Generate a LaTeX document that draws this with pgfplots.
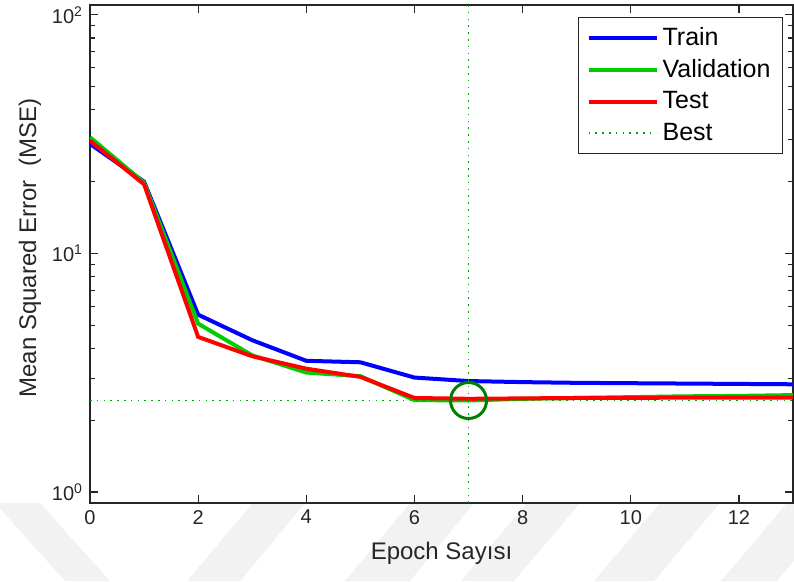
\documentclass[border=0pt]{standalone}
\usepackage{fontspec}
\setmainfont{Liberation Sans}
\usepackage{pgfplots}
\pgfplotsset{compat=1.18}

\definecolor{trainblue}{rgb}{0,0,1}
\definecolor{valgreen}{rgb}{0,0.8,0}
\definecolor{testred}{rgb}{1,0,0}
\definecolor{bestgreen}{rgb}{0,0.5,0}
\definecolor{bestdot}{rgb}{0,0.65,0}
\definecolor{axgray}{rgb}{0.15,0.15,0.15}
\definecolor{stripe}{gray}{0.95}

% performance per epoch
\pgfplotstableread{
epoch train  val   test
0     28.8   30.7  29.7
1     20.0   19.8  19.5
2     5.54   5.08  4.47
3     4.33   3.74  3.71
4     3.55   3.17  3.29
5     3.50   3.06  3.04
6     3.02   2.43  2.48
7     2.92   2.42  2.46
8     2.89   2.46  2.47
9     2.87   2.48  2.48
10    2.86   2.50  2.48
11    2.85   2.52  2.49
12    2.84   2.53  2.49
13    2.83   2.55  2.49
}\perf

\begin{document}
\begin{tikzpicture}
% faint diagonal page stripes behind the plot (the axis background hides them inside the box)
\begin{scope}[x=0.5pt, y=-0.5pt, shift={(-90,-503)}]
  \clip (0,0) rectangle (794,581);
  \fill[stripe] (-5,503) -- (40,503) -- (110,581) -- (65,581) -- cycle;
  \fill[stripe] (187,581) -- (240,581) -- (305,503) -- (253,503) -- cycle;
  \fill[stripe] (345,581) -- (410,581) -- (474,503) -- (410,503) -- cycle;
  \fill[stripe] (461,581) -- (514,581) -- (580,503) -- (527,503) -- cycle;
  \fill[stripe] (594,581) -- (654,581) -- (720,503) -- (660,503) -- cycle;
  \fill[stripe] (721,581) -- (777,581) -- (843,503) -- (787,503) -- cycle;
\end{scope}
\begin{axis}[
  scale only axis,
  width=351.5pt, height=249pt,
  axis background/.style={fill=white},
  ymode=log,
  xmin=0, xmax=13, ymin=0.9, ymax=110,
  xtick={0,2,...,12},
  ytick={1,10,100},
  yticklabels={10\textsuperscript{0},10\textsuperscript{1},10\textsuperscript{2}},
  minor ytick={2,...,9,20,30,...,90},
  tick align=inside,
  major tick length=4pt, minor tick length=2.5pt,
  axis line style={axgray, line width=0.6pt},
  tick style={axgray, line width=0.6pt},
  ticklabel style={font=\fontsize{10}{12}\selectfont, text=axgray},
  /pgf/number format/assume math mode=true,
  xlabel={Epoch Sayısı},
  ylabel={Mean Squared Error\ \ (MSE)},
  label style={font=\fontsize{12}{14}\selectfont, text=axgray},
  x label style={at={(axis description cs:0.5,-0.1)}, anchor=center},
  y label style={at={(axis description cs:-0.0853,0.512)}, anchor=center},
  legend style={at={(axis description cs:0.986,0.976)}, anchor=north east,
    draw=axgray, line width=0.6pt, fill=white,
    font=\fontsize{12.5}{15}\selectfont, row sep=1.5pt,
    inner xsep=4pt, inner ysep=3pt},
  legend cell align=left,
  legend image code/.code={\draw[#1] (0pt,0pt) -- (34pt,0pt);},
]
\addplot[trainblue, line width=2pt] table[x=epoch, y=train] {\perf};
\addlegendentry{Train}
\addplot[valgreen, line width=2pt] table[x=epoch, y=val] {\perf};
\addlegendentry{Validation}
\addplot[testred, line width=2pt] table[x=epoch, y=test] {\perf};
\addlegendentry{Test}
\addplot[bestdot, line width=0.8pt, dash pattern=on 0.8pt off 2.6pt] coordinates {(7,0.9) (7,110)};
\addlegendentry{Best}
\addplot[bestdot, line width=0.8pt, dash pattern=on 0.8pt off 2.6pt, forget plot] coordinates {(0,2.42) (13,2.42)};
\addplot[bestgreen, line width=1.5pt, only marks, mark=o, mark size=9pt, forget plot] coordinates {(7,2.42)};
\end{axis}
\pgfresetboundingbox
\path ([xshift=-45pt,yshift=-39pt]current axis.south west) rectangle ([xshift=0.5pt,yshift=2.5pt]current axis.north east);
\end{tikzpicture}
\end{document}
